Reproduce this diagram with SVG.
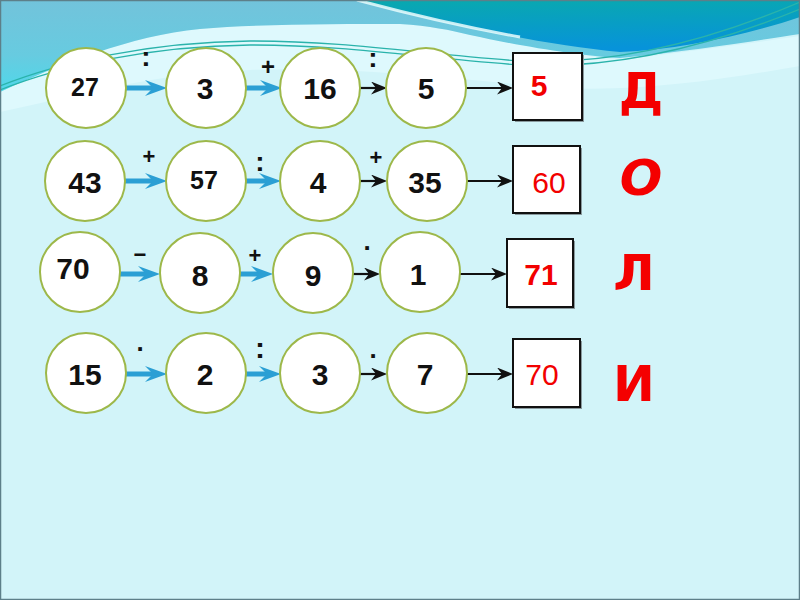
<svg xmlns="http://www.w3.org/2000/svg" width="800" height="600" viewBox="0 0 800 600">
<style>
.node circle{fill:#fff;stroke:#9db84a;stroke-width:2}
.num{font-family:"Liberation Sans",Arial,sans-serif;font-weight:bold;fill:#111;text-anchor:middle}
.box rect.b{fill:#fff;stroke:#111;stroke-width:2}
.box rect.s{fill:#8a9a9e}
.res{font-family:"Liberation Sans",Arial,sans-serif;fill:#f20000;text-anchor:middle;font-size:30px}
.op{font-family:"Liberation Sans",Arial,sans-serif;font-weight:bold;fill:#111;text-anchor:middle}
.letter{font-family:"DejaVu Sans",sans-serif;font-weight:bold;fill:#f40000;text-anchor:middle;font-size:50px}
.blue{stroke:#2b9fd4;stroke-width:5;fill:none;marker-end:url(#bh)}
.black{stroke:#111;stroke-width:2.2;fill:none;marker-end:url(#kh)}
</style>
<defs>
<linearGradient id="medG" gradientUnits="userSpaceOnUse" x1="0" y1="0" x2="0" y2="92">
<stop offset="0" stop-color="#72c3db"/><stop offset="0.6" stop-color="#67cbe0"/><stop offset="1" stop-color="#4fd8ea"/>
</linearGradient>
<linearGradient id="darkG" x1="0" y1="0" x2="0.15" y2="1">
<stop offset="0" stop-color="#09a9ae"/><stop offset="1" stop-color="#0793da"/>
</linearGradient>
<marker id="bh" viewBox="0 0 22 16" refX="8" refY="8" markerWidth="22" markerHeight="16" markerUnits="userSpaceOnUse" orient="auto">
<path d="M0,0 L22,8 L0,16 L8,8 Z" fill="#2b9fd4"/>
</marker>
<marker id="kh" viewBox="0 0 16 13" refX="5" refY="6.5" markerWidth="16" markerHeight="13" markerUnits="userSpaceOnUse" orient="auto">
<path d="M0,0 L16,6.5 L0,13 L5,6.5 Z" fill="#111"/>
</marker>
</defs>

<g id="background">
<rect x="0" y="0" width="800" height="600" fill="#d2f4f9"/>
<path d="M0,92 C60,64 130,36 200,29 C260,24 340,24 400,24 C430,26 450,30 470,35 C520,44 580,56 620,60 C700,50 760,42 800,36 V66 C720,80 640,92 560,88 C460,80 360,66 250,70 C150,74 80,95 0,112 Z" fill="#def9fd"/>
<path d="M0,0 H800 V34 C760,40 700,50 620,58 C580,56 520,46 470,35 C450,30 430,26 400,24 C340,24 260,24 200,29 C130,36 60,64 0,92 Z" fill="url(#medG)"/>
<path d="M357,0 C440,22 540,45 620,52 C680,50 750,34 800,17 V0 Z" fill="url(#darkG)"/>
<path d="M357,0 C420,17 470,28 520,37" fill="none" stroke="#e8fbfd" stroke-width="3" opacity="0.85"/>
<path d="M0,86 C60,62 150,42 250,41 C350,41 420,54 520,61 C620,66 720,36 800,2" fill="none" stroke="#2ab3ab" stroke-width="1.3"/>
<path d="M0,90 C60,66 150,46 250,45 C350,45 420,58 520,65 C620,70 720,42 800,9" fill="none" stroke="#2ab3ab" stroke-width="1.3"/>
<rect x="0.5" y="0.5" width="799" height="599" fill="none" stroke="#5d7f89" stroke-width="1.5"/>
</g>

<g id="connectors">
<line class="blue" x1="126" y1="88" x2="153" y2="88"/>
<line class="blue" x1="246" y1="88" x2="268" y2="88"/>
<line class="black" x1="360" y1="88" x2="376" y2="88"/>
<line class="black" x1="466" y1="88" x2="502" y2="88"/>
<line class="blue" x1="125" y1="181" x2="153" y2="181"/>
<line class="blue" x1="245" y1="181" x2="267" y2="181"/>
<line class="black" x1="360" y1="181" x2="376" y2="181"/>
<line class="black" x1="467" y1="181" x2="502" y2="181"/>
<line class="blue" x1="120" y1="274" x2="146" y2="274"/>
<line class="blue" x1="240" y1="274" x2="259" y2="274"/>
<line class="black" x1="353" y1="274" x2="369" y2="274"/>
<line class="black" x1="460" y1="274" x2="496" y2="274"/>
<line class="blue" x1="126" y1="374" x2="153" y2="374"/>
<line class="blue" x1="246" y1="374" x2="267" y2="374"/>
<line class="black" x1="360" y1="374" x2="376" y2="374"/>
<line class="black" x1="467" y1="374" x2="502" y2="374"/>
</g>

<g id="operators">
<text class="op" x="146" y="66" font-size="28">:</text>
<text class="op" x="268" y="75" font-size="24">+</text>
<text class="op" x="373" y="67" font-size="28">:</text>
<text class="op" x="149" y="164" font-size="22">+</text>
<text class="op" x="260" y="171" font-size="28">:</text>
<text class="op" x="376" y="165" font-size="22">+</text>
<text class="op" x="140" y="262" font-size="22">−</text>
<text class="op" x="255" y="263" font-size="22">+</text>
<text class="op" x="367" y="250" font-size="26">.</text>
<text class="op" x="140" y="351" font-size="26">.</text>
<text class="op" x="260" y="358" font-size="30">:</text>
<text class="op" x="373" y="358" font-size="26">.</text>
</g>

<g id="n27" class="node"><circle cx="86" cy="88" r="40"/><text class="num" x="85" y="96" font-size="25">27</text></g>
<g id="n3a" class="node"><circle cx="206" cy="88" r="40"/><text class="num" x="205" y="99" font-size="30">3</text></g>
<g id="n16" class="node"><circle cx="320" cy="88" r="40"/><text class="num" x="320" y="99" font-size="30">16</text></g>
<g id="n5" class="node"><circle cx="426" cy="88" r="40"/><text class="num" x="426" y="99" font-size="30">5</text></g>
<g id="r1" class="box"><rect class="s" x="515" y="55" width="69" height="67"/><rect class="b" x="513" y="53" width="69" height="67"/><text class="res" x="539" y="96" font-weight="bold">5</text></g>
<text class="letter" x="641" y="108">Д</text>

<g id="n43" class="node"><circle cx="85" cy="181" r="40"/><text class="num" x="85" y="193" font-size="30">43</text></g>
<g id="n57" class="node"><circle cx="206" cy="181" r="40"/><text class="num" x="204" y="189" font-size="25">57</text></g>
<g id="n4" class="node"><circle cx="320" cy="181" r="40"/><text class="num" x="318" y="193" font-size="30">4</text></g>
<g id="n35" class="node"><circle cx="427" cy="181" r="40"/><text class="num" x="425" y="193" font-size="30">35</text></g>
<g id="r2" class="box"><rect class="s" x="515" y="148" width="67" height="67"/><rect class="b" x="513" y="146" width="67" height="67"/><text class="res" x="549" y="193">60</text></g>
<text class="letter" x="641" y="195" font-style="italic">О</text>

<g id="n70" class="node"><circle cx="80" cy="272" r="40"/><text class="num" x="73" y="279" font-size="30">70</text></g>
<g id="n8" class="node"><circle cx="200" cy="273" r="40"/><text class="num" x="200" y="286" font-size="30">8</text></g>
<g id="n9" class="node"><circle cx="313" cy="273" r="40"/><text class="num" x="313" y="286" font-size="30">9</text></g>
<g id="n1" class="node"><circle cx="420" cy="272" r="40"/><text class="num" x="418" y="285" font-size="30">1</text></g>
<g id="r3" class="box"><rect class="s" x="509" y="241" width="66" height="68"/><rect class="b" x="507" y="239" width="66" height="68"/><text class="res" x="541" y="285" font-weight="bold">71</text></g>
<text class="letter" x="634" y="290">Л</text>

<g id="n15" class="node"><circle cx="86" cy="373" r="40"/><text class="num" x="85" y="385" font-size="30">15</text></g>
<g id="n2" class="node"><circle cx="206" cy="373" r="40"/><text class="num" x="205" y="385" font-size="30">2</text></g>
<g id="n3b" class="node"><circle cx="320" cy="373" r="40"/><text class="num" x="320" y="385" font-size="30">3</text></g>
<g id="n7" class="node"><circle cx="427" cy="373" r="40"/><text class="num" x="425" y="385" font-size="30">7</text></g>
<g id="r4" class="box"><rect class="s" x="515" y="341" width="67" height="68"/><rect class="b" x="513" y="339" width="67" height="68"/><text class="res" x="542" y="385">70</text></g>
<text class="letter" x="634" y="401">И</text>
</svg>
